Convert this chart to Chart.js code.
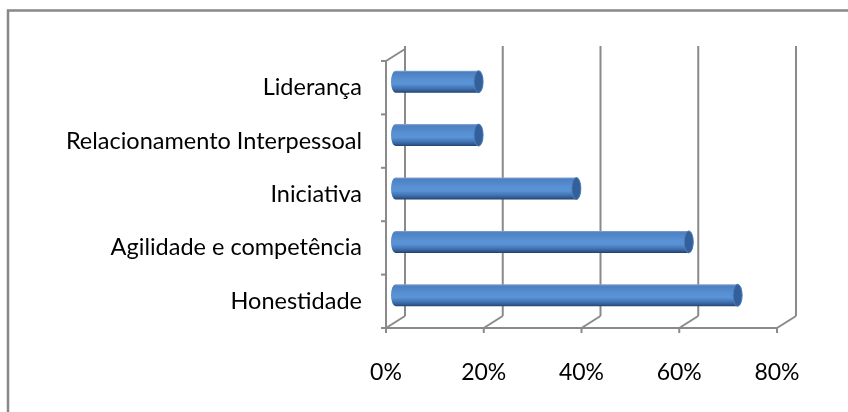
<!DOCTYPE html>
<html>
<head>
<meta charset="utf-8">
<script src="https://cdn.jsdelivr.net/npm/chart.js@4"></script>
<style>
  html, body { margin: 0; padding: 0; background: #fff; }
  #wrap { width: 848px; height: 412px; position: relative; }
</style>
</head>
<body>
<div id="wrap"><canvas id="myChart"></canvas></div>
<script>
var categorias = ['Liderança', 'Relacionamento Interpessoal', 'Iniciativa', 'Agilidade e competência', 'Honestidade'];
var valores = [17, 17, 37, 60, 70];
var escala = [0, 20, 40, 60, 80];

// profundidade do efeito 3D (parede do fundo)
var DX = 19, DY = -12;
var corGrade = '#8a8a8a';

function linha(ctx, x1, y1, x2, y2) {
  ctx.beginPath();
  ctx.moveTo(x1, y1);
  ctx.lineTo(x2, y2);
  ctx.stroke();
}

const moldura = {
  id: 'moldura',
  beforeDraw(chart) {
    const ctx = chart.ctx;
    ctx.save();
    ctx.fillStyle = '#fff';
    ctx.fillRect(0, 0, chart.width, chart.height);
    ctx.strokeStyle = '#888';
    ctx.lineWidth = 2.5;
    ctx.strokeRect(8, 10.5, chart.width + 20, chart.height + 20);
    ctx.restore();
  },
  beforeDatasetsDraw(chart) {
    const ctx = chart.ctx;
    const xs = chart.scales.x, ys = chart.scales.y;
    const a = chart.chartArea;
    const topoFundo = a.top - 15;
    ctx.save();
    ctx.strokeStyle = corGrade;
    ctx.lineWidth = 2;
    // parede do fundo e chao
    escala.forEach(function (v) {
      const x = xs.getPixelForValue(v);
      linha(ctx, x + DX, topoFundo, x + DX, a.bottom + DY);
      linha(ctx, x, a.bottom, x + DX, a.bottom + DY);
      linha(ctx, x, a.bottom, x, a.bottom + 5);
    });
    // eixo das categorias (frente)
    const x0 = xs.getPixelForValue(0);
    linha(ctx, x0, a.top, x0, a.bottom);
    linha(ctx, x0, a.top, x0 + DX, a.top + DY);
    linha(ctx, x0 - 1, a.bottom, xs.getPixelForValue(80) + 1, a.bottom);
    const passo = (ys.getPixelForValue(1) - ys.getPixelForValue(0));
    for (let i = 0; i <= categorias.length; i++) {
      const y = ys.getPixelForValue(i) - passo / 2;
      linha(ctx, x0 - 5, y, x0, y);
    }
    ctx.restore();
  },
  afterDatasetsDraw(chart) {
    const ctx = chart.ctx;
    const meta = chart.getDatasetMeta(0);
    meta.data.forEach(function (bar) {
      const x0 = bar.base + DX / 2;
      const x1 = bar.x + DX / 2;
      const yc = bar.y + DY / 2;
      const r = bar.height / 2;
      const rx = 4.5;
      const g = ctx.createLinearGradient(0, yc - r, 0, yc + r);
      g.addColorStop(0, '#86a6d0');
      g.addColorStop(0.08, '#4d80c1');
      g.addColorStop(0.4, '#5790d3');
      g.addColorStop(0.6, '#5a93d6');
      g.addColorStop(0.8, '#4274b3');
      g.addColorStop(0.92, '#2f5b91');
      g.addColorStop(1, '#233f66');
      ctx.save();
      ctx.beginPath();
      ctx.ellipse(x0, yc, rx, r, 0, Math.PI / 2, Math.PI * 1.5);
      ctx.lineTo(x1, yc - r);
      ctx.ellipse(x1, yc, rx, r, 0, -Math.PI / 2, Math.PI / 2);
      ctx.closePath();
      ctx.fillStyle = g;
      ctx.fill();
      // tampa
      ctx.beginPath();
      ctx.ellipse(x1, yc, rx, r, 0, 0, Math.PI * 2);
      ctx.fillStyle = '#33609a';
      ctx.fill();
      ctx.strokeStyle = '#4f7fba';
      ctx.lineWidth = 1;
      ctx.stroke();
      ctx.restore();
    });
  }
};

const ctx = document.getElementById('myChart').getContext('2d');
const myChart = new Chart(ctx, {
  type: 'bar',
  data: {
    labels: categorias,
    datasets: [{
      data: valores,
      backgroundColor: 'rgba(0,0,0,0)',
      borderWidth: 0,
      barThickness: 22
    }]
  },
  options: {
    indexAxis: 'y',
    responsive: true,
    maintainAspectRatio: false,
    animation: false,
    layout: { padding: { left: 0, top: 61, right: 71, bottom: 0 } },
    plugins: { legend: { display: false }, tooltip: { enabled: false } },
    scales: {
      x: {
        min: 0,
        max: 80,
        afterFit: function (s) { s.height = 84; },
        grid: { display: false, drawTicks: false },
        border: { display: false },
        ticks: {
          stepSize: 20,
          padding: 31,
          color: '#000',
          font: { family: 'Lato', size: 23 },
          callback: function (v) { return v + '%'; }
        }
      },
      y: {
        afterFit: function (s) { s.width = 386; },
        grid: { display: false, drawTicks: false },
        border: { display: false },
        ticks: {
          padding: 24,
          color: '#000',
          font: { family: 'Lato', size: 23.5 }
        }
      }
    }
  },
  plugins: [moldura]
});
</script>
</body>
</html>
